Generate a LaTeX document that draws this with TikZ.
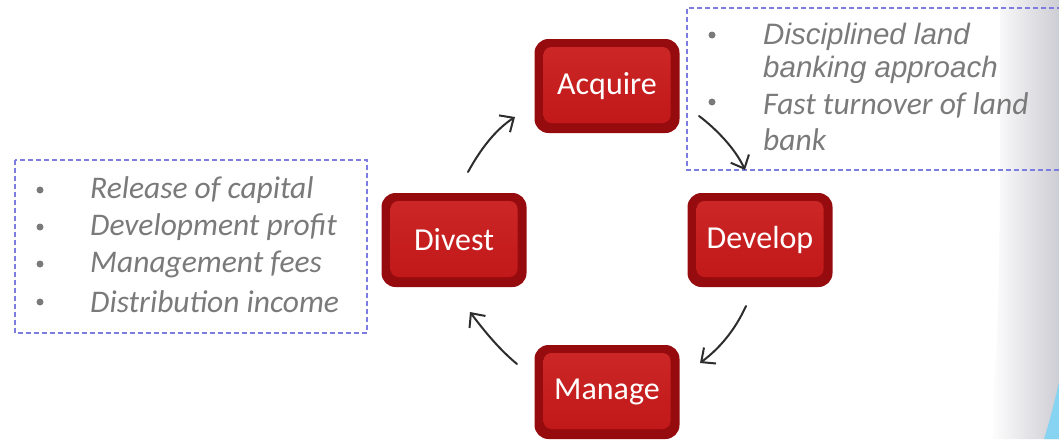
\documentclass[tikz,border=0pt]{standalone}
\usepackage{fontspec}
\setmainfont{Carlito}
\newfontfamily\arialf{Liberation Sans}
\usetikzlibrary{arrows.meta}
\definecolor{redD}{RGB}{150,12,14}
\definecolor{redM}{RGB}{192,22,24}
\definecolor{redL}{RGB}{205,40,40}
\definecolor{txtgray}{RGB}{122,122,122}
\definecolor{dashblue}{RGB}{125,125,225}
\definecolor{edgegray}{RGB}{205,205,212}
\definecolor{skyb}{RGB}{135,212,242}
\definecolor{arrowgray}{RGB}{45,45,45}
\tikzset{
  redbox/.style={rounded corners=14pt, fill=redD, minimum width=145pt, minimum height=94pt,
    text=white, font=\fontsize{32}{36}\selectfont, inner sep=0pt,
    path picture={\shade[top color=redL, bottom color=redM, rounded corners=8pt]
      ([shift={(9pt,-8pt)}]path picture bounding box.north west) rectangle
      ([shift={(-9pt,10pt)}]path picture bounding box.south east);}},
  dashbox/.style={draw=dashblue, dash pattern=on 5pt off 3pt, line width=1.3pt},
  bul/.style={circle, fill=txtgray, inner sep=0pt, minimum size=7pt},
  item/.style={anchor=west, text=txtgray, inner sep=0pt, font=\fontsize{31.5}{34}\selectfont\itshape},
  itemA/.style={anchor=west, text=txtgray, inner sep=0pt, font=\arialf\fontsize{29.5}{32}\selectfont\itshape},
  hand/.style={draw=arrowgray, line width=2pt, line cap=round, -{Straight Barb[length=11pt,width=20pt,line width=2pt]}}
}
\begin{document}
\begin{tikzpicture}[x=1pt,y=-1pt]
\useasboundingbox (0,0) rectangle (1059,439);
% right edge gradient
\shade[left color=white, right color=edgegray] (1000,0) -- (1059,0) -- (1059,439) -- (990,439) .. controls (1000,300) .. (1000,0) -- cycle;
\fill[skyb] (1044,439) .. controls (1050,420) and (1055,400) .. (1059,382) -- (1059,439) -- cycle;
% dashed boxes
\draw[dashbox] (15,160) rectangle (367,333);
\draw[dashbox] (1070,8) -- (687,8) -- (687,170) -- (1070,170);
% left list
\node[bul] (b1) at (40,190) {};
\node[bul] (b2) at (40,227) {};
\node[bul] (b3) at (40,264) {};
\node[bul] (b4) at (40,302) {};
\node[item] (t1) at (90,190) {Release of capital};
\node[item] (t2) at (90,227) {Development profit};
\node[item] (t3) at (90,264) {Management fees};
\node[item] (t4) at (90,302) {Distribution income};
% right list
\node[bul] (r1) at (712,35) {};
\node[bul] (r2) at (712,102) {};
\node[itemA] (s1) at (763,37) {Disciplined land};
\node[itemA] (s2) at (763,70) {banking approach};
\node[item] (s3) at (763,105) {Fast turnover of land};
\node[item] (s4) at (763,140) {bank};
% red boxes
\node[redbox] (acq) at (607,86) {Acquire};
\node[redbox] (dev) at (760,240) {Develop};
\node[redbox] (div) at (454,240) {Divest};
\node[redbox] (man) at (607,392) {Manage};
% arrows
\coordinate (a1s) at (468,172); \coordinate (a1e) at (515,117);
\coordinate (a2s) at (699,116); \coordinate (a2e) at (745,170);
\coordinate (a3s) at (746,306); \coordinate (a3e) at (700,363);
\coordinate (a4s) at (517,364); \coordinate (a4e) at (470,312);
\draw[hand] (a1s) .. controls (480,150) and (495,130) .. (a1e);
\draw[hand] (a2s) .. controls (715,128) and (735,148) .. (a2e);
\draw[hand] (a3s) .. controls (735,330) and (720,348) .. (a3e);
\draw[hand] (a4s) .. controls (500,350) and (485,332) .. (a4e);
\end{tikzpicture}
\end{document}
